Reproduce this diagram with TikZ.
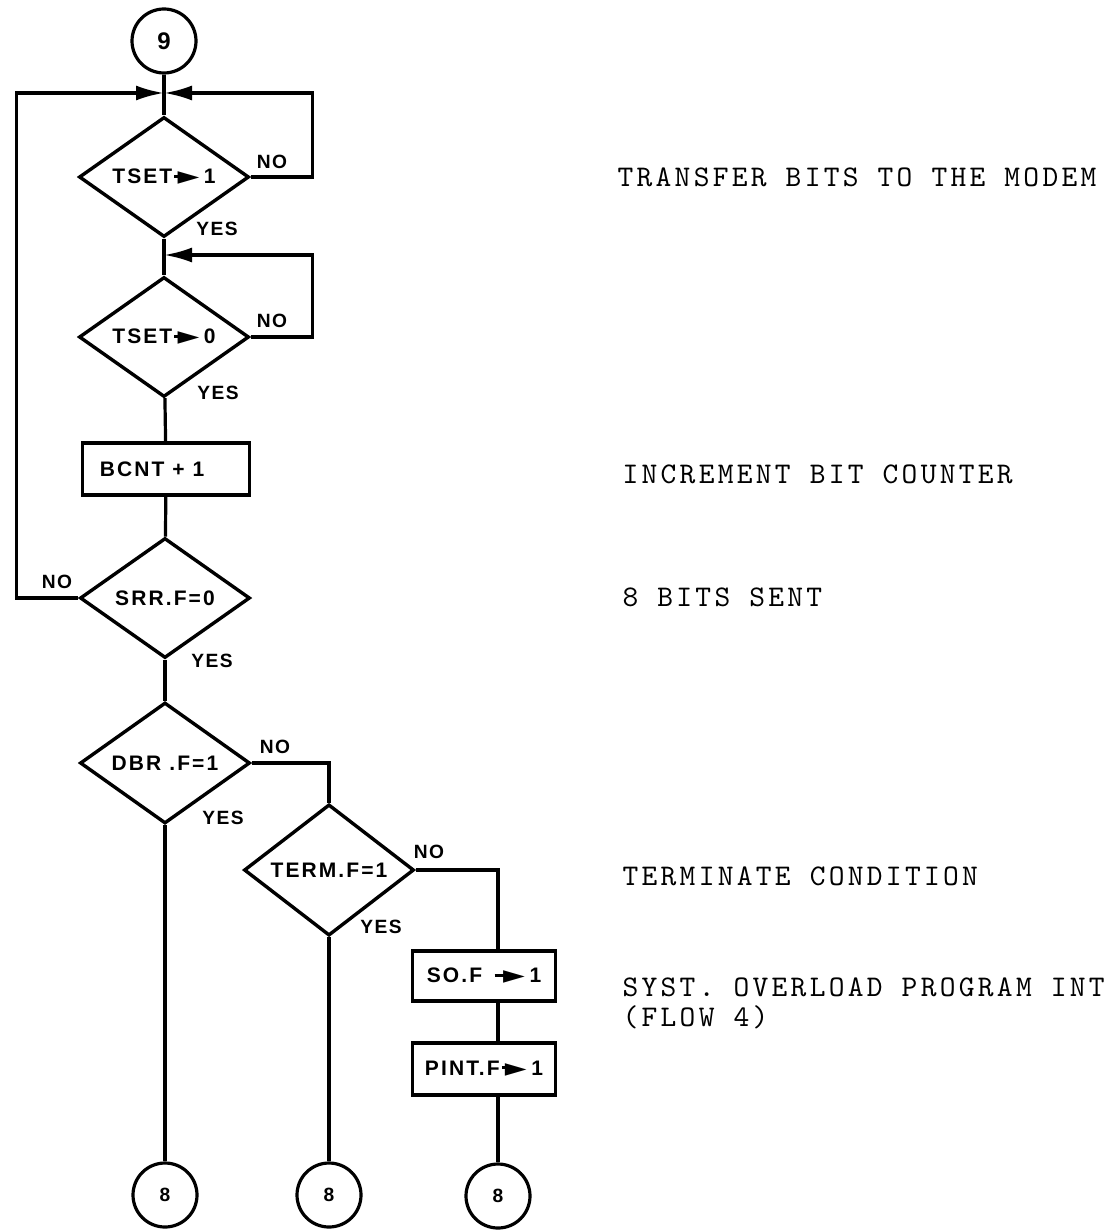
\documentclass[tikz,border=0pt]{standalone}
\usepackage{fontspec}
\usetikzlibrary{shapes.geometric,arrows.meta,calc}
\newfontfamily\labfont{Liberation Sans}[LetterSpace=10]
\newfontfamily\yesfont{Liberation Sans}[LetterSpace=8]
\newfontfamily\symfont{DejaVu Sans}
\newfontfamily\twfont{lmmono10-regular.otf}[LetterSpace=11]
\newcommand\tarr[1][0.35em]{\kern0.1em\rule[0.3em]{#1}{0.14em}\kern-0.2em\raisebox{-0.05em}{\scalebox{1.35}[1.2]{\symfont\symbol{"25BA}}}\kern0.22em}
\begin{document}
\begin{tikzpicture}[x=0.5pt,y=-0.5pt,line width=1.6pt,
  boxf/.style={font=\labfont\bfseries\fontsize{10.5}{12}\selectfont},
  dec/.style={diamond,draw,line width=1.7pt,minimum width=85pt,minimum height=60pt,inner sep=0pt,boxf},
  proc/.style={rectangle,draw,line width=1.7pt,inner sep=0pt,boxf},
  conn/.style={circle,draw,line width=1.6pt,minimum size=32pt,inner sep=0pt,font=\labfont\bfseries\fontsize{9.6}{11}\selectfont},
  lab/.style={inner sep=0pt,font=\yesfont\bfseries\fontsize{9.6}{11}\selectfont},
  note/.style={anchor=base west,inner sep=0pt,font=\twfont\fontsize{15}{13.5}\selectfont},
  tip/.style={-{Latex[length=14pt,width=7.5pt]}}]
\useasboundingbox (0,0) rectangle (1108,1230);

% nodes
\node[conn,font=\labfont\bfseries\fontsize{12}{13}\selectfont] (c9) at (164,41) {9};
\coordinate (m1) at (164,93);
\node[dec] (d1) at (164,177) {TSET\tarr 1};
\coordinate (m2) at (164,255);
\node[dec] (d2) at (164,337) {TSET\tarr 0};
\node[proc,minimum width=83.5pt,minimum height=26pt] (bcnt) at (166,469) {BCNT + 1\hspace*{14pt}};
\node[dec] (srr) at (165,598) {SRR.F=0};
\node[dec] (dbr) at (165,763) {DBR .F=1};
\node[dec] (term) at (329,870) {TERM.F=1};
\node[proc,minimum width=71.5pt,minimum height=25pt] (so) at (484,976) {SO.F\hspace{0.5em}\tarr[0.6em]1};
\node[proc,minimum width=71.5pt,minimum height=26pt] (pint) at (484,1069) {PINT.F\tarr 1};
\node[conn] (c8a) at (165,1195) {8};
\node[conn] (c8b) at (329,1195) {8};
\node[conn] (c8c) at (498,1196) {8};

% branch labels
\node[lab] (no1) at (272,162) {NO};
\node[lab] (yes1) at (217,229) {YES};
\node[lab] (no2) at (272,321) {NO};
\node[lab] (yes2) at (218,393) {YES};
\node[lab] (no3) at (57,582) {NO};
\node[lab] (yes3) at (212,661) {YES};
\node[lab] (no4) at (275,747) {NO};
\node[lab] (yes4) at (223,818) {YES};
\node[lab] (no5) at (429,852) {NO};
\node[lab] (yes5) at (381,927) {YES};

% notes
\node[note] (n1) at (616,187) {TRANSFER BITS TO THE MODEM};
\node[note] (n2) at (621,483) {INCREMENT BIT COUNTER};
\node[note] (n3) at (621,606) {8 BITS SENT};
\node[note] (n4) at (621,885) {TERMINATE CONDITION};
\node[note] (n5) at (621,996) {SYST. OVERLOAD PROGRAM INT};
\node[note] (n6) at (621,1026) {(FLOW 4)};

% connectors
\draw (c9) -- (d1);
\draw[tip] (d1.east) -- ++(62,0) |- (m1);
\draw[tip] (srr.west) -- ++(-62,0) |- (m1);
\draw (d1) -- (d2);
\draw[tip] (d2.east) -- ++(62,0) |- (m2);
\draw (d2) -- (bcnt);
\draw (bcnt) -- (srr);
\draw (srr) -- (dbr);
\draw (dbr) -- (c8a);
\draw (dbr.east) -| (term.north);
\draw (term) -- (c8b);
\draw (term.east) -| (so.north -| c8c.north);
\draw (so.south -| c8c.north) -- (pint.north -| c8c.north);
\draw (pint.south -| c8c.north) -- (c8c);
\end{tikzpicture}
\end{document}
